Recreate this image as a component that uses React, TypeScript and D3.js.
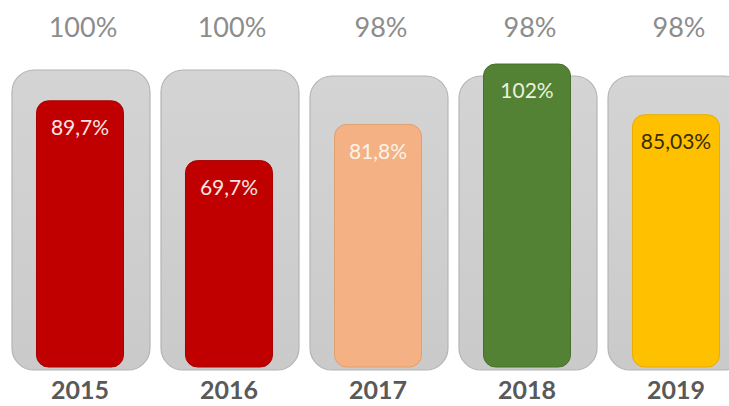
import React from "react";
import * as d3 from "d3";

const years = ["2015", "2016", "2017", "2018", "2019"];
const targets = [100, 100, 98, 98, 98];
const actuals = [89.7, 69.7, 81.8, 102, 85.03];
const targetLabels = ["100%", "100%", "98%", "98%", "98%"];
const actualLabels = ["89,7%", "69,7%", "81,8%", "102%", "85,03%"];
const barColors = ["#c00000", "#c00000", "#f4b183", "#548235", "#ffc000"];
const barStrokes = ["#a80000", "#a80000", "#e0a070", "#476f2c", "#e8ad00"];
const labelColors = ["#fbe4e4", "#fbe4e4", "#fdf2ea", "#eaf2dc", "#3a2c00"];

const width = 729;
const height = 406;
const font = "Lato, 'Open Sans', sans-serif";

function App() {
  const x = d3.scaleBand<string>().domain(years).range([12, 746]).paddingInner(0.074).paddingOuter(0);
  const y = d3.scaleLinear().domain([0, 100]).range([369, 70]);
  const barW = 87;

  return (
    <svg
      width={width}
      height={height}
      style={{ position: "absolute", left: 0, top: 0, display: "block", background: "#fff" }}
    >
      <defs>
        <linearGradient id="boxFill" x1="0" y1="0" x2="0" y2="1">
          <stop offset="0%" stopColor="#d4d4d4" />
          <stop offset="100%" stopColor="#cacaca" />
        </linearGradient>
      </defs>
      {years.map((yr, i) => {
        const bx = x(yr)!;
        const cx = bx + x.bandwidth() / 2;
        const gTop = y(targets[i]);
        const bTop = y(actuals[i]);
        return (
          <g key={yr}>
            <rect
              x={bx}
              y={gTop}
              width={x.bandwidth()}
              height={y(0) + 1 - gTop}
              rx={22}
              fill="url(#boxFill)"
              stroke="#b4b4b4"
              strokeWidth={1.2}
            />
            <rect
              x={cx - barW / 2 - 1}
              y={bTop}
              width={barW}
              height={y(0) - 2 - bTop}
              rx={12}
              fill={barColors[i]}
              stroke={barStrokes[i]}
              strokeWidth={1}
            />
            <text
              x={cx - 1}
              y={bTop + 29}
              textAnchor="middle"
              dominantBaseline="middle"
              fontFamily={font}
              fontSize={21}
              fill={labelColors[i]}
            >
              {actualLabels[i]}
            </text>
            <text
              x={cx + 2}
              y={30}
              textAnchor="middle"
              dominantBaseline="middle"
              fontFamily={font}
              fontSize={27}
              fill="#8c8c8c"
            >
              {targetLabels[i]}
            </text>
            <text
              x={cx - 1}
              y={393}
              textAnchor="middle"
              dominantBaseline="middle"
              fontFamily={font}
              fontSize={25}
              fontWeight="bold"
              fill="#595959"
            >
              {yr}
            </text>
          </g>
        );
      })}
    </svg>
  );
}

export default App;
